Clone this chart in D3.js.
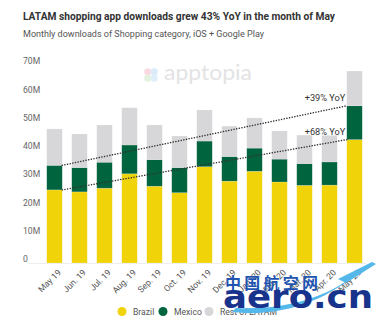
<!DOCTYPE html>
<html><head><meta charset="utf-8">
<script src="https://cdn.jsdelivr.net/npm/d3@7"></script>
<style>
html,body{margin:0;padding:0;background:#fff;}
svg{display:block;font-family:Roboto,"Noto Sans",sans-serif;}
</style></head>
<body><svg id="c" width="379" height="322"></svg>
<script>
const categories = ["May 19","Jun. 19","Jul. 19","Aug. 19","Sep. 19","Oct. 19","Nov. 19","Dec. 19","Jan. 20","Feb. 20","Mar. 20","Apr. 20","May 20"];
const brazil = [25.9,25.2,26.5,31.6,27.2,24.9,34.1,29.0,32.5,28.7,27.5,27.6,43.7];
const mexico = [8.7,8.6,9.2,10.2,9.4,8.9,9.1,8.7,8.2,8.1,7.7,8.2,12.0];
const rest = [12.9,11.9,13.2,13.2,12.3,11.2,11.0,10.8,10.7,10.0,10.1,9.4,12.3];
const yTicks = [0,10,20,30,40,50,60,70];
const seriesNames = ["Brazil","Mexico","Rest of LATAM"];
const colors = ["#f1d30a","#00643e","#d7d6d8"];
const annotations = ["+39% YoY","+68% YoY"];

const svg = d3.select("#c");

const title = svg.append("text").attr("x",23).attr("y",20).attr("font-size",10.8).attr("font-weight",700)
  .attr("fill","#333").text("LATAM shopping app downloads grew 43% YoY in the month of May");
title.attr("textLength",312).attr("lengthAdjust","spacingAndGlyphs");
svg.append("text").attr("x",23).attr("y",36.5).attr("font-size",9.3)
  .attr("fill","#555").attr("textLength",241).attr("lengthAdjust","spacingAndGlyphs")
  .text("Monthly downloads of Shopping category, iOS + Google Play");

const x = d3.scaleBand().domain(categories).range([42,367]).paddingInner(0.38).paddingOuter(0.19);
const y = d3.scaleLinear().domain([0,70]).range([263,65.4]);

// watermark apptopia
const wm = svg.append("g").attr("opacity",0.5);
[["#f4b6c8",-3.2,-3.2],["#b9d8f2",3.2,-3.2],["#c7e6bf",-3.2,3.2],["#bfe0f4",3.2,3.2]].forEach(p=>{
  wm.append("circle").attr("cx",151+p[1]).attr("cy",75+p[2]).attr("r",3.6).attr("fill",p[0]);
});
wm.append("text").attr("x",164).attr("y",80).attr("font-size",21).attr("fill","#c8c8cc")
  .attr("font-family","Lato, sans-serif").attr("textLength",88).attr("lengthAdjust","spacingAndGlyphs").text("apptopia");

// y axis labels
svg.append("g").selectAll("text").data(yTicks).join("text")
  .attr("x",23).attr("y",d=>y(d)-1).attr("font-size",8.6).attr("fill","#666")
  .text(d=>d===0?"0":d+"M");
svg.append("line").attr("x1",29).attr("x2",366).attr("y1",263.5).attr("y2",263.5).attr("stroke","#eee");

// stacked bars
const table = categories.map((c,i)=>({cat:c, Brazil:brazil[i], Mexico:mexico[i], "Rest of LATAM":rest[i]}));
const stack = d3.stack().keys(seriesNames)(table);
svg.append("g").selectAll("g").data(stack).join("g").attr("fill",(d,i)=>colors[i])
  .selectAll("rect").data(d=>d).join("rect")
  .attr("x",d=>x(d.data.cat)).attr("width",x.bandwidth())
  .attr("y",d=>y(d[1])).attr("height",d=>y(d[0])-y(d[1]))
  .attr("stroke","rgba(255,255,255,0.3)").attr("stroke-width",0.6);

// trend lines
const n = categories.length-1;
const lines = [
  {y0: brazil[0]+mexico[0], y1: brazil[n]+mexico[n], label: annotations[0]},
  {y0: brazil[0], y1: brazil[n], label: annotations[1]}
];
lines.forEach(l=>{
  svg.append("line").attr("x1",x(categories[0])+x.bandwidth()).attr("y1",y(l.y0))
    .attr("x2",x(categories[n])).attr("y2",y(l.y1))
    .attr("stroke","#333").attr("stroke-width",1.5).attr("stroke-dasharray","0.1,2.6").attr("stroke-linecap","round");
  svg.append("text").attr("x",x(categories[n])-1.5).attr("y",y(l.y1)-4.5).attr("text-anchor","end")
    .attr("font-size",9.2).attr("fill","#333").text(l.label);
});

// x labels
svg.append("g").selectAll("text").data(categories).join("text")
  .attr("text-anchor","end").attr("font-size",8.6).attr("fill","#555")
  .attr("transform",d=>`translate(${x(d)+x.bandwidth()/2+4},${270}) rotate(-45)`)
  .attr("dy","0.5em")
  .text(d=>d);

// legend
const lx = [122,163,209];
seriesNames.forEach((s,i)=>{
  svg.append("circle").attr("cx",lx[i]).attr("cy",311.5).attr("r",4.5).attr("fill",colors[i]);
  svg.append("text").attr("x",lx[i]+11).attr("y",314.5).attr("font-size",8.6).attr("fill","#555").text(s);
});

// aero.cn watermark (overlay in the reference image)
const aw = svg.append("g");
aw.append("path").attr("d","M232,312 C280,318 330,300 360,270 C330,298 285,310 236,308 Z").attr("fill","#55b8ea");
aw.append("path").attr("d","M338,279 L372,262 L376,264 L346,283 Z").attr("fill","#55b8ea");
aw.append("text").attr("x",225).attr("y",289).attr("font-size",16).attr("font-weight",700).attr("fill","#1f55b0")
  .attr("font-family","'Noto Sans CJK SC', sans-serif").attr("textLength",93).attr("lengthAdjust","spacing").text("中国航空网");
aw.append("text").attr("x",223).attr("y",308).attr("font-size",32).attr("font-weight",700).attr("fill","#17338c")
  .attr("font-family","'DejaVu Sans', sans-serif").attr("textLength",150).attr("lengthAdjust","spacingAndGlyphs").text("aero.cn");
</script></body></html>
